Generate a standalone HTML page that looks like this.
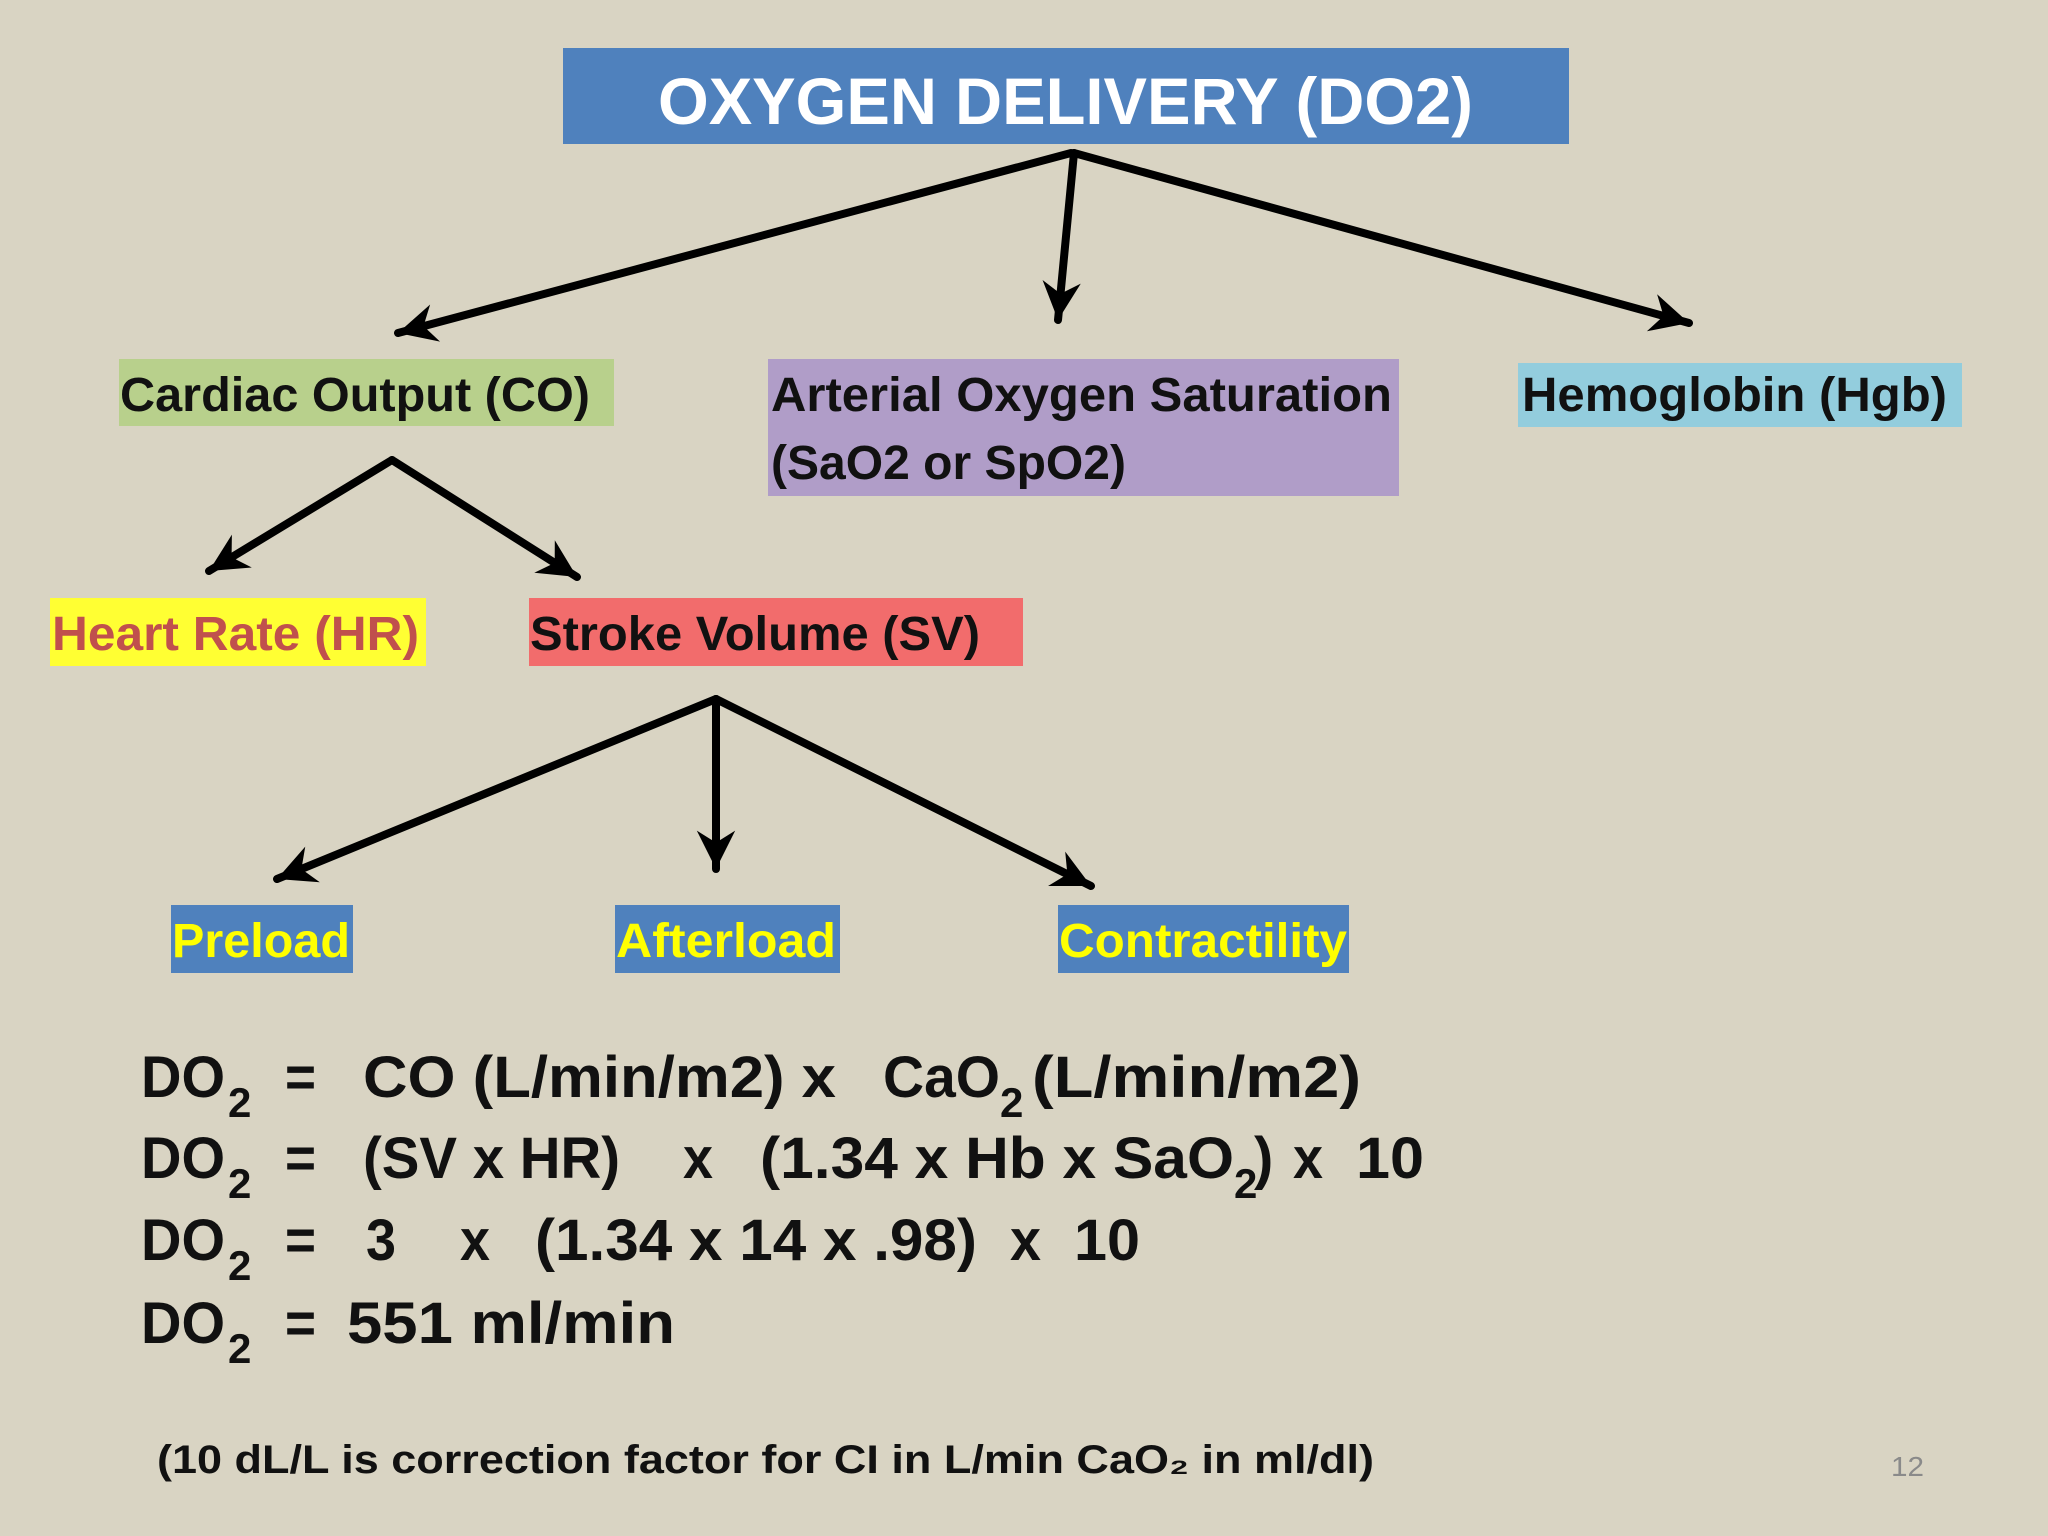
<!DOCTYPE html>
<html><head><meta charset="utf-8"><style>
html,body{margin:0;padding:0;background:#d9d4c3;}
svg{display:block;}
text{font-family:"Liberation Sans",sans-serif;font-weight:bold;}
</style></head><body>
<svg width="2048" height="1536" viewBox="0 0 2048 1536" xmlns="http://www.w3.org/2000/svg">
<defs>
<marker id="ah" viewBox="0 0 20 20" refX="18" refY="10" markerWidth="6" markerHeight="6" orient="auto" markerUnits="strokeWidth">
<path d="M2,2 L18,10 L2,18 L7,10 Z" fill="#000"/>
</marker>
</defs>
<rect width="2048" height="1536" fill="#d9d4c3"/>
<rect x="563" y="48" width="1006" height="96" fill="#4f81bd"/>
<rect x="119" y="359" width="495" height="67" fill="#b8d08c"/>
<rect x="768" y="359" width="631" height="137" fill="#b09dc8"/>
<rect x="1518" y="363" width="444" height="64" fill="#93cddd"/>
<rect x="50" y="598" width="376" height="68" fill="#ffff33"/>
<rect x="529" y="598" width="494" height="68" fill="#f26c6c"/>
<rect x="171" y="905" width="182" height="68" fill="#4f81bd"/>
<rect x="615" y="905" width="225" height="68" fill="#4f81bd"/>
<rect x="1058" y="905" width="291" height="68" fill="#4f81bd"/>
<g stroke="#000" stroke-width="8" fill="none" stroke-linecap="round">
<line x1="1071" y1="153" x2="398" y2="333" marker-end="url(#ah)"/>
<line x1="1074" y1="153" x2="1058" y2="320" marker-end="url(#ah)"/>
<line x1="1074" y1="153" x2="1689" y2="323" marker-end="url(#ah)"/>
<line x1="392" y1="460" x2="209" y2="571" marker-end="url(#ah)"/>
<line x1="392" y1="460" x2="577" y2="577" marker-end="url(#ah)"/>
<line x1="716" y1="699" x2="277" y2="879" marker-end="url(#ah)"/>
<line x1="716" y1="699" x2="716" y2="869" marker-end="url(#ah)"/>
<line x1="716" y1="699" x2="1091" y2="886" marker-end="url(#ah)"/>
</g>
<text x="658" y="124" font-size="66" fill="#fff" textLength="815" lengthAdjust="spacingAndGlyphs">OXYGEN DELIVERY (DO2)</text>
<text x="120" y="411" font-size="48" fill="#111" textLength="470" lengthAdjust="spacingAndGlyphs">Cardiac Output (CO)</text>
<text x="771" y="411" font-size="48" fill="#111" textLength="621" lengthAdjust="spacingAndGlyphs">Arterial Oxygen Saturation</text>
<text x="771" y="479" font-size="48" fill="#111" textLength="355" lengthAdjust="spacingAndGlyphs">(SaO2 or SpO2)</text>
<text x="1522" y="411" font-size="48" fill="#111" textLength="425" lengthAdjust="spacingAndGlyphs">Hemoglobin (Hgb)</text>
<text x="52" y="650" font-size="48" fill="#c0504d" textLength="367" lengthAdjust="spacingAndGlyphs">Heart Rate (HR)</text>
<text x="530" y="650" font-size="48" fill="#111" textLength="450" lengthAdjust="spacingAndGlyphs">Stroke Volume (SV)</text>
<text x="172" y="957" font-size="48" fill="#ffff00" textLength="178" lengthAdjust="spacingAndGlyphs">Preload</text>
<text x="616" y="957" font-size="48" fill="#ffff00" textLength="220" lengthAdjust="spacingAndGlyphs">Afterload</text>
<text x="1059" y="957" font-size="48" fill="#ffff00" textLength="288" lengthAdjust="spacingAndGlyphs">Contractility</text>
<g font-size="58" fill="#111">
<text x="141" y="1097" textLength="84" lengthAdjust="spacingAndGlyphs">DO</text><text x="228" y="1117" font-size="42">2</text>
<text x="285" y="1097" textLength="31" lengthAdjust="spacingAndGlyphs">=</text>
<text x="363" y="1097" textLength="473" lengthAdjust="spacingAndGlyphs">CO (L/min/m2) x</text>
<text x="883" y="1097" textLength="117" lengthAdjust="spacingAndGlyphs">CaO</text><text x="1000" y="1117" font-size="42">2</text>
<text x="1032" y="1097" textLength="329" lengthAdjust="spacingAndGlyphs">(L/min/m2)</text>

<text x="141" y="1178" textLength="84" lengthAdjust="spacingAndGlyphs">DO</text><text x="228" y="1198" font-size="42">2</text>
<text x="285" y="1178" textLength="31" lengthAdjust="spacingAndGlyphs">=</text>
<text x="363" y="1178" textLength="257" lengthAdjust="spacingAndGlyphs">(SV x HR)</text>
<text x="683" y="1178" textLength="30" lengthAdjust="spacingAndGlyphs">x</text>
<text x="760" y="1178" textLength="474" lengthAdjust="spacingAndGlyphs">(1.34 x Hb x SaO</text><text x="1234" y="1198" font-size="42">2</text>
<text x="1254" y="1178">)</text>
<text x="1293" y="1178" textLength="30" lengthAdjust="spacingAndGlyphs">x</text>
<text x="1356" y="1178" textLength="68" lengthAdjust="spacingAndGlyphs">10</text>

<text x="141" y="1260" textLength="84" lengthAdjust="spacingAndGlyphs">DO</text><text x="228" y="1280" font-size="42">2</text>
<text x="285" y="1260" textLength="31" lengthAdjust="spacingAndGlyphs">=</text>
<text x="366" y="1260" textLength="30" lengthAdjust="spacingAndGlyphs">3</text>
<text x="460" y="1260" textLength="30" lengthAdjust="spacingAndGlyphs">x</text>
<text x="535" y="1260" textLength="442" lengthAdjust="spacingAndGlyphs">(1.34 x 14 x .98)</text>
<text x="1010" y="1260" textLength="31" lengthAdjust="spacingAndGlyphs">x</text>
<text x="1074" y="1260" textLength="66" lengthAdjust="spacingAndGlyphs">10</text>

<text x="141" y="1343" textLength="84" lengthAdjust="spacingAndGlyphs">DO</text><text x="228" y="1363" font-size="42">2</text>
<text x="285" y="1343" textLength="31" lengthAdjust="spacingAndGlyphs">=</text>
<text x="347" y="1343" textLength="328" lengthAdjust="spacingAndGlyphs">551 ml/min</text>
</g>
<text x="157" y="1473" font-size="40" fill="#111" textLength="1217" lengthAdjust="spacingAndGlyphs">(10 dL/L is correction factor for CI in L/min  CaO₂ in ml/dl)</text>
<text x="1891" y="1476" font-size="28" fill="#8a8a8a" style="font-weight:normal" textLength="33" lengthAdjust="spacingAndGlyphs">12</text>
</svg>
</body></html>
